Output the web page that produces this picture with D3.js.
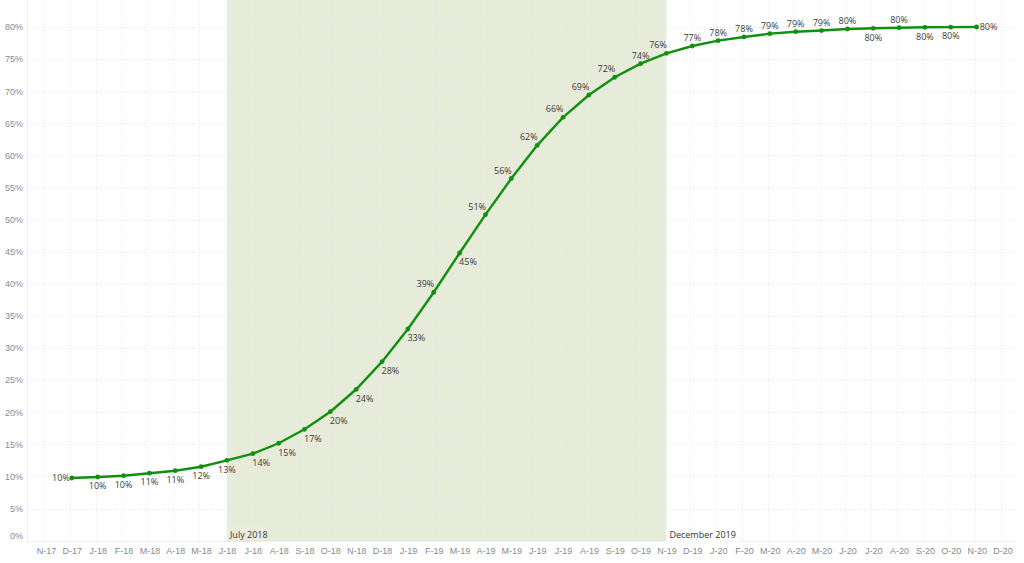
<!DOCTYPE html>
<html>
<head>
<meta charset="utf-8">
<script src="https://cdn.jsdelivr.net/npm/d3@7"></script>
<style>
  html, body { margin: 0; padding: 0; background: #fff; }
  svg { display: block; font-family: "Open Sans", "Noto Sans", sans-serif; }
</style>
</head>
<body>
<svg id="chart" width="1024" height="563"></svg>
<script>
// ---- data ----
const monthKeys = ["2017-11","2017-12","2018-01","2018-02","2018-03","2018-04","2018-05","2018-06","2018-07","2018-08","2018-09","2018-10","2018-11","2018-12","2019-01","2019-02","2019-03","2019-04","2019-05","2019-06","2019-07","2019-08","2019-09","2019-10","2019-11","2019-12","2020-01","2020-02","2020-03","2020-04","2020-05","2020-06","2020-07","2020-08","2020-09","2020-10","2020-11","2020-12"];
const tickLabels = ["N-17","D-17","J-18","F-18","M-18","A-18","M-18","J-18","J-18","A-18","S-18","O-18","N-18","D-18","J-19","F-19","M-19","A-19","M-19","J-19","J-19","A-19","S-19","O-19","N-19","D-19","J-20","F-20","M-20","A-20","M-20","J-20","J-20","A-20","S-20","O-20","N-20","D-20"];
const seriesMonths = ["2017-12","2018-01","2018-02","2018-03","2018-04","2018-05","2018-06","2018-07","2018-08","2018-09","2018-10","2018-11","2018-12","2019-01","2019-02","2019-03","2019-04","2019-05","2019-06","2019-07","2019-08","2019-09","2019-10","2019-11","2019-12","2020-01","2020-02","2020-03","2020-04","2020-05","2020-06","2020-07","2020-08","2020-09","2020-10","2020-11"];
const seriesValues = [0.0975,0.0991,0.1011,0.1050,0.1089,0.1151,0.1250,0.1354,0.1516,0.1734,0.2008,0.2357,0.2787,0.3296,0.3868,0.4480,0.5077,0.5640,0.6157,0.6593,0.6941,0.7217,0.7429,0.7590,0.7704,0.7787,0.7845,0.7896,0.7927,0.7945,0.7969,0.7980,0.7989,0.7995,0.7998,0.8000];
const yTicks = [0,0.05,0.10,0.15,0.20,0.25,0.30,0.35,0.40,0.45,0.50,0.55,0.60,0.65,0.70,0.75,0.80];
const highlightStart = "2018-06";
const highlightEnd = "2019-11";
const highlightStartLabel = "July 2018";
const highlightEndLabel = "December 2019";

// label placement (layout, mirrors reference collision placement)
const labelPlacement = ["L","B","B","B","B","B","B","BR","BR","BR","BR","BR","BR","BR","AL","BR","AL","AL","AL","AL","AL","AL","A","AL","A","A","A","A","A","A","A","B","A","B","B","R"];

// ---- layout ----
const svg = d3.select("#chart");
const plotLeft = 27, plotRight = 1015, plotTop = 0, plotBottom = 541;
const x = d3.scalePoint().domain(monthKeys).range([46, 1002.5]);
const y = d3.scaleLinear().domain([0, 0.8]).range([540.6, 27]);
const green = "#11900f";
const pct = d3.format(".0%");

// highlight band
svg.append("rect")
  .attr("x", x(highlightStart)).attr("y", plotTop)
  .attr("width", x(highlightEnd) - x(highlightStart))
  .attr("height", plotBottom - plotTop)
  .attr("fill", "#e7ebda");

// gridlines
const grid = svg.append("g");
grid.selectAll("line.h").data(yTicks).enter().append("line")
  .attr("x1", plotLeft).attr("x2", plotRight)
  .attr("y1", d => Math.round(y(d)) + 0.5).attr("y2", d => Math.round(y(d)) + 0.5)
  .attr("stroke", "#e4e4e4").attr("stroke-width", 1).attr("stroke-dasharray", "1,2");
grid.selectAll("line.v").data(monthKeys).enter().append("line")
  .attr("x1", d => Math.round(x(d)) - 1.5).attr("x2", d => Math.round(x(d)) - 1.5)
  .attr("y1", plotTop).attr("y2", plotBottom)
  .attr("stroke", "#ececec").attr("stroke-width", 1).attr("stroke-dasharray", "1,2");
svg.append("line").attr("x1", plotLeft + 0.5).attr("x2", plotLeft + 0.5)
  .attr("y1", plotTop).attr("y2", plotBottom).attr("stroke", "#f0f0f0");
svg.append("line").attr("x1", plotLeft).attr("x2", plotRight)
  .attr("y1", plotBottom + 0.5).attr("y2", plotBottom + 0.5).attr("stroke", "#f0f0f0");

// y axis labels
const yAxis = d3.axisLeft(y).tickValues(yTicks).tickFormat(d3.format(".0%")).tickSize(0).tickPadding(4);
const yg = svg.append("g").attr("transform", `translate(${plotLeft},0)`).call(yAxis);
yg.select(".domain").remove();
yg.selectAll("text").attr("fill", "#8a8a8a").style("font-size", "9px")
  .attr("dy", d => d === 0 ? "-0.2em" : "0.32em");

// x axis labels
const xAxis = d3.axisBottom(x).tickFormat((d, i) => tickLabels[i]).tickSize(0).tickPadding(7);
const xg = svg.append("g").attr("transform", `translate(0,${plotBottom})`).call(xAxis);
xg.select(".domain").remove();
xg.selectAll("text").attr("fill", "#8a8a8a").style("font-size", "9px");

// annotations
function annot(key, text, bg) {
  const g = svg.append("g");
  const t = g.append("text").attr("x", x(key) + 3).attr("y", 538)
    .attr("fill", "#333").style("font-size", "9px").text(text);
  const bb = t.node().getBBox();
  g.insert("rect", "text").attr("x", bb.x - 2).attr("y", bb.y - 1)
    .attr("width", bb.width + 4).attr("height", bb.height + 2).attr("fill", bg);
}
annot(highlightStart, highlightStartLabel, "#eaedde");
annot(highlightEnd, highlightEndLabel, "#ffffff");

// line + points
const pts = seriesMonths.map((m, i) => ({ m, v: seriesValues[i], p: labelPlacement[i] }));
svg.append("path").datum(pts)
  .attr("fill", "none").attr("stroke", green).attr("stroke-width", 2.4)
  .attr("d", d3.line().x(d => x(d.m)).y(d => y(d.v)));
svg.selectAll("circle.pt").data(pts).enter().append("circle")
  .attr("cx", d => x(d.m)).attr("cy", d => y(d.v)).attr("r", 2.4).attr("fill", green);

// data labels
svg.selectAll("text.lbl").data(pts).enter().append("text")
  .attr("class", "lbl")
  .attr("x", d => {
    const px = x(d.m);
    if (d.p === "L") return px - 2;
    if (d.p === "R") return px + 3;
    if (d.p === "BR") return px - 0.5;
    if (d.p === "AL") return px + 0.5;
    return px;
  })
  .attr("y", d => {
    const py = y(d.v);
    if (d.p === "L" || d.p === "R") return py + 3.3;
    if (d.p === "B" || d.p === "BR") return py + 12.3;
    return py - 5;
  })
  .attr("text-anchor", d => (d.p === "L" || d.p === "AL") ? "end" : (d.p === "R" || d.p === "BR") ? "start" : "middle")
  .attr("fill", "#3a3a3a").style("font-size", "9px")
  .text(d => pct(d.v));
</script>
</body>
</html>
